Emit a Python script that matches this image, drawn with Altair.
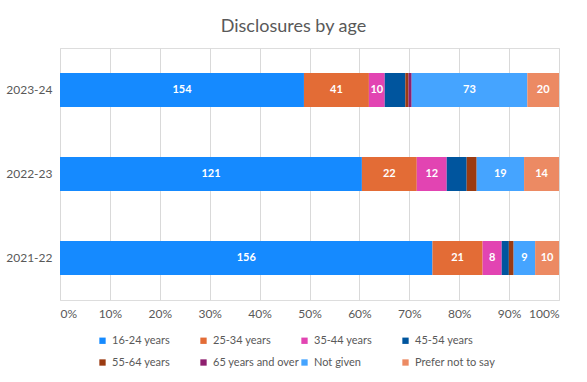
import altair as alt
import pandas as pd

# Disclosure counts per reporting year, split by age band
years = ["2023-24", "2022-23", "2021-22"]
age_bands = [
    "16-24 years", "25-34 years", "35-44 years", "45-54 years",
    "55-64 years", "65 years and over", "Not given", "Prefer not to say",
]
counts_2023_24 = [154, 41, 10, 13, 2, 2, 73, 20]
counts_2022_23 = [121, 22, 12, 8, 4, 0, 19, 14]
counts_2021_22 = [156, 21, 8, 3, 2, 0, 9, 10]
band_colors = [
    "#158AFF", "#E36C36", "#E244B2", "#00559E",
    "#9B3B12", "#8E1F6E", "#45A4FF", "#EC8A63",
]
# bands whose segments carry no value label
unlabelled_bands = ["45-54 years", "55-64 years", "65 years and over"]
tick_labels = ["0%", "10%", "20%", "30%", "40%", "50%", "60%", "70%", "80%", "90%", "100%"]

rows = []
for year, counts in zip(years, [counts_2023_24, counts_2022_23, counts_2021_22]):
    for i, (band, n) in enumerate(zip(age_bands, counts)):
        rows.append({"year": year, "band": band, "order": i, "value": n,
                     "labelled": band not in unlabelled_bands})
df = pd.DataFrame(rows)

FONT = "Lato"
GREY = "#595959"

base = alt.Chart(df).transform_stack(
    stack="value",
    groupby=["year"],
    as_=["x0", "x1"],
    offset="normalize",
    sort=[alt.SortField("order", order="ascending")],
).transform_calculate(mid="(datum.x0 + datum.x1) / 2")

y_enc = alt.Y(
    "year:N",
    sort=years,
    title=None,
    scale=alt.Scale(paddingInner=0.6, paddingOuter=0.3),
    axis=alt.Axis(
        domain=False, ticks=False, labelPadding=8, labelFontSize=12,
        labelColor=GREY, labelFont=FONT, grid=False,
    ),
)

bars = base.mark_bar(size=34).encode(
    x=alt.X(
        "x0:Q",
        title=None,
        scale=alt.Scale(domain=[0, 1], nice=False),
        axis=alt.Axis(
            format=".0%", values=[i / 10 for i in range(11)], domain=False, ticks=False,
            labelPadding=8, labelFontSize=12, labelColor=GREY, labelFont=FONT,
            grid=True, gridColor="#D9D9D9", gridWidth=1,
            labelExpr="[" + ",".join(repr(t) for t in tick_labels) + "][round(datum.value * 10)]",
        ),
    ),
    x2="x1:Q",
    y=y_enc,
    color=alt.Color(
        "band:N",
        scale=alt.Scale(domain=age_bands, range=band_colors),
        sort=age_bands,
        legend=alt.Legend(
            title=None, orient="none", legendX=37, legendY=287, direction="horizontal",
            columns=4, gridAlign="all", columnPadding=0, rowPadding=10,
            symbolType="square", symbolSize=40, symbolStrokeWidth=0, symbolOffset=0,
            labelFontSize=11, labelColor=GREY, labelFont=FONT, labelOffset=4,
            labelLimit=200,
        ),
    ),
    order=alt.Order("order:Q"),
)

labels = base.transform_filter("datum.labelled && datum.value > 0").mark_text(
    color="white", fontSize=11, fontWeight="bold", font=FONT,
).encode(
    x=alt.X("mid:Q"),
    y=alt.Y("year:N", sort=years),
    text=alt.Text("value:Q"),
)

chart = (
    alt.layer(bars, labels)
    .properties(
        width=499,
        height=252,
        title=alt.Title(
            "Disclosures by age", fontSize=18, font=FONT, fontWeight="normal",
            color=GREY, anchor="middle", offset=24, baseline="alphabetic", dx=-16, dy=26,
        ),
        autosize=alt.AutoSizeParams(type="none"),
        padding={"left": 60, "top": 48, "right": 28, "bottom": 82},
    )
    .configure_view(stroke=None)
    .configure(background="white")
)

chart.save("out.html", embed_options={"renderer": "svg", "actions": False})
